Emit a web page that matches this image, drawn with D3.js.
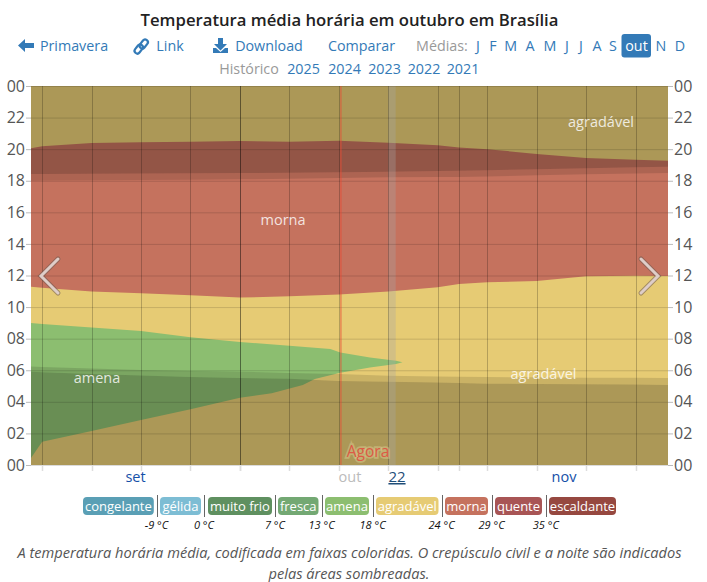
<!DOCTYPE html>
<html lang="pt">
<head>
<meta charset="utf-8">
<title>Temperatura média horária em outubro em Brasília</title>
<script src="https://cdn.jsdelivr.net/npm/d3@7/dist/d3.min.js"></script>
<style>
html,body{margin:0;padding:0;background:#fff}
svg{display:block;font-family:"Open Sans",sans-serif}
</style>
</head>
<body>
<svg id="chart" width="707" height="582"></svg>
<script>
// Days counted from 1 September; hours of the day on the vertical axis.
const days = [0.42, 2, 9, 16, 23, 30, 37, 44, 51, 58, 61, 65, 72, 79, 86, 90.6];
const warmTop = [20.06, 20.18, 20.39, 20.44, 20.47, 20.52, 20.47, 20.54, 20.41, 20.25, 20.11, 20.0, 19.7, 19.44, 19.33, 19.27];
const warmBottom = [11.29, 11.23, 10.98, 10.87, 10.75, 10.6, 10.68, 10.79, 10.98, 11.25, 11.46, 11.57, 11.65, 11.95, 11.99, 11.97];
const duskStart = [18.0, 18.01, 18.03, 18.04, 18.06, 18.09, 18.12, 18.18, 18.22, 18.24, 18.24, 18.27, 18.35, 18.41, 18.46, 18.49];
const nightStart = [18.43, 18.43, 18.45, 18.46, 18.48, 18.49, 18.51, 18.54, 18.57, 18.62, 18.64, 18.67, 18.73, 18.79, 18.86, 18.89];
const nightEnd = [5.91, 5.88, 5.76, 5.67, 5.57, 5.51, 5.46, 5.32, 5.27, 5.22, 5.19, 5.15, 5.13, 5.11, 5.09, 5.07];
const dawnEnd = [6.24, 6.21, 6.11, 6.02, 5.95, 5.91, 5.83, 5.76, 5.65, 5.6, 5.59, 5.57, 5.55, 5.53, 5.52, 5.51];

// The mild band closes into a wedge, so its two edges have their own day lists.
const mildTopDays = [0.42, 2, 9, 16, 23, 30, 37, 42.8, 44.2, 48.4, 52.1, 53];
const mildTop = [8.99, 8.93, 8.7, 8.48, 8.09, 7.79, 7.55, 7.35, 7.13, 6.8, 6.6, 6.5];
const mildBottomDays = [0.42, 2, 9, 16, 23, 30, 34.5, 38.9, 40.6, 44.2, 48.4, 52.1, 53];
const mildBottom = [0.44, 1.48, 2.15, 2.85, 3.53, 4.26, 4.54, 5.07, 5.45, 5.84, 6.18, 6.4, 6.5];

const weekDays = [2, 9, 16, 23, 30, 37, 44, 51, 58, 65, 72, 79, 86];
const monthEdges = [30, 61];
const nowDay = 44.3;
const selectedDay = [51, 52.05];
const hourTicks = [0, 2, 4, 6, 8, 10, 12, 14, 16, 18, 20, 22, 24];

const bandNames = ["congelante", "gélida", "muito frio", "fresca", "amena", "agradável", "morna", "quente", "escaldante"];
const bandColors = ["#5a9fb5", "#7dbdd4", "#5f9060", "#73a873", "#8cbe70", "#e6cb74", "#c5725e", "#a85555", "#964840"];
const bandEdges = [83, 153.8, 160, 201, 208, 272, 278, 318.5, 325, 369, 376, 438.5, 445, 488, 495, 542, 549, 616];
const limitLabels = ["-9 °C", "0 °C", "7 °C", "13 °C", "18 °C", "24 °C", "29 °C", "35 °C"];
const limitAt = [156.5, 204, 275, 321.6, 372.6, 441.6, 491.6, 545.8];

const monthInitials = ["J", "F", "M", "A", "M", "J", "J", "A", "S", "out", "N", "D"];
const monthInitialAt = [478, 493, 510.6, 530, 550, 567, 581, 597, 613, 636.5, 661, 680];
const archiveYears = ["2025", "2024", "2023", "2022", "2021"];
const archiveAt = [303.5, 344.5, 384.5, 424, 463];

const svg = d3.select("#chart");
const linkBlue = "#337ab7";
const plotLeft = 31, plotRight = 668, plotTop = 86, plotBottom = 465;
const x = d3.scaleLinear().domain([days[0], days[days.length - 1]]).range([plotLeft, plotRight]);
const y = d3.scaleLinear().domain([0, 24]).range([plotBottom, plotTop]);

function label(sel, str, px, py, opts = {}) {
  return sel.append("text").attr("x", px).attr("y", py)
    .attr("text-anchor", opts.anchor || "middle")
    .attr("font-size", opts.size || 15)
    .attr("font-style", opts.style || null)
    .attr("font-weight", opts.weight || null)
    .attr("fill", opts.fill || "#333")
    .text(str);
}

// Header: title, navigation links and archive links
label(svg, "Temperatura média horária em outubro em Brasília", 349.5, 26, {size: 16.7, weight: 600, fill: "#222"});
label(svg, "Primavera", 74, 51, {fill: linkBlue, size: 14.3});
label(svg, "Link", 170, 51, {fill: linkBlue, size: 14.3});
label(svg, "Download", 269, 51, {fill: linkBlue, size: 14.3});
label(svg, "Comparar", 361.5, 51, {fill: linkBlue, size: 14.3});
label(svg, "Médias:", 442, 51, {fill: "#999", size: 14.3});
label(svg, "Histórico", 249, 74, {fill: "#999", size: 14.3});

svg.append("rect").attr("x", 621.5).attr("y", 34).attr("width", 29.5).attr("height", 23.5).attr("rx", 3).attr("fill", linkBlue);
monthInitials.forEach((m, i) => label(svg, m, monthInitialAt[i], 51, {fill: m === "out" ? "#fff" : linkBlue, size: 14.3}));
archiveYears.forEach((yr, i) => label(svg, yr, archiveAt[i], 74, {fill: linkBlue, size: 14.3}));

// Navigation icons
svg.append("path").attr("fill", linkBlue)
  .attr("d", "M18 45.5l7-6.5v4h9v5h-9v4z");
svg.append("g").attr("fill", "none").attr("stroke", linkBlue).attr("stroke-width", 2.2)
  .selectAll("rect").data([[136, 44], [141, 39]]).join("rect")
  .attr("x", d => d[0]).attr("y", d => d[1]).attr("width", 5.5).attr("height", 10).attr("rx", 2.7)
  .attr("transform", d => `rotate(38 ${d[0] + 2.7} ${d[1] + 5})`);
svg.append("path").attr("fill", linkBlue)
  .attr("d", "M218 38h5v6h4l-6.5 6.5-6.5-6.5h4zM213 48h3l4.5 4 4.5-4h3v5h-15z");

// Temperature bands
const plot = svg.append("g");
const hourArea = (xs, lo, hi) => d3.area()
  .x((d, i) => x(xs[i])).y0((d, i) => y(lo[i])).y1((d, i) => y(hi[i]))(xs);

plot.append("rect").attr("x", plotLeft).attr("y", y(24))
  .attr("width", plotRight - plotLeft).attr("height", y(0) - y(24)).attr("fill", bandColors[5]);
plot.append("path").attr("d", hourArea(days, warmBottom, warmTop)).attr("fill", bandColors[6]);

const mildOutline = mildTopDays.map((d, i) => [x(d), y(mildTop[i])])
  .concat(mildBottomDays.map((d, i) => [x(d), y(mildBottom[i])]).reverse());
plot.append("path").attr("d", d3.line()(mildOutline) + "Z").attr("fill", bandColors[4]);

// Night and civil twilight shading
const zeros = days.map(() => 0), tops = days.map(() => 24);
const shade = (lo, hi, alpha) => plot.append("path").attr("d", hourArea(days, lo, hi)).attr("fill", "#000").attr("fill-opacity", alpha);
shade(zeros, nightEnd, 0.25);
shade(nightStart, tops, 0.25);
shade(nightEnd, dawnEnd, 0.12);
shade(duskStart, nightStart, 0.12);

// Selected day
plot.append("rect").attr("x", x(selectedDay[0])).attr("y", plotTop)
  .attr("width", x(selectedDay[1]) - x(selectedDay[0])).attr("height", plotBottom - plotTop)
  .attr("fill", "#a8a8a8").attr("fill-opacity", 0.32);

// Grid: hour rules, weekly rules and a stronger rule at the start of October
const grid = svg.append("g");
const snap = d => Math.round(x(d)) + 0.5;
grid.selectAll("line.hour").data(hourTicks).join("line").attr("class", "hour")
  .attr("x1", plotLeft).attr("x2", plotRight).attr("y1", d => y(d) + 0.5).attr("y2", d => y(d) + 0.5)
  .attr("stroke", "#000").attr("stroke-opacity", 0.14);
grid.selectAll("line.week").data(weekDays.concat(monthEdges[1])).join("line").attr("class", "week")
  .attr("x1", snap).attr("x2", snap)
  .attr("y1", plotTop).attr("y2", plotBottom)
  .attr("stroke", "#000").attr("stroke-opacity", 0.22);
grid.append("line").attr("x1", snap(monthEdges[0])).attr("x2", snap(monthEdges[0]))
  .attr("y1", plotTop).attr("y2", plotBottom)
  .attr("stroke", "#000").attr("stroke-opacity", 0.3);

// Tick marks below the plot
grid.selectAll("line.tick").data(weekDays.concat(monthEdges)).join("line").attr("class", "tick")
  .attr("x1", snap).attr("x2", snap)
  .attr("y1", plotBottom).attr("y2", plotBottom + 6)
  .attr("stroke", "#ddd").attr("stroke-width", 1.5);

// Hour axis on both sides
const hourLabel = d => String(d % 24).padStart(2, "0");
[[d3.axisLeft, plotLeft], [d3.axisRight, plotRight]].forEach(([axis, at]) => {
  const g = svg.append("g").attr("transform", `translate(${at},0)`)
    .call(axis(y).tickValues(hourTicks).tickFormat(hourLabel).tickSize(5).tickPadding(1));
  g.select(".domain").remove();
  g.selectAll("line").attr("stroke", "#bbb");
  g.selectAll("text").attr("font-size", 16).attr("fill", "#555").attr("font-family", "'Open Sans',sans-serif");
});

// Now marker
svg.append("line").attr("x1", x(nowDay)).attr("x2", x(nowDay)).attr("y1", plotTop).attr("y2", plotBottom)
  .attr("stroke", "#ea4a35").attr("stroke-opacity", 0.8);
label(svg, "Agora", 368, 457, {size: 15.5, fill: "#dd5a45"})
  .attr("stroke", "#e0d098").attr("stroke-opacity", 0.45).attr("stroke-width", 3.5).attr("paint-order", "stroke");

// Band names inside the plot
const inPlot = {fill: "#fff", size: 14.5};
label(svg, "morna", 283, 225, inPlot).attr("fill-opacity", 0.82);
label(svg, "amena", 97, 383, inPlot).attr("fill-opacity", 0.82);
label(svg, "agradável", 601, 127, inPlot).attr("fill-opacity", 0.82);
label(svg, "agradável", 543.5, 379, inPlot).attr("fill-opacity", 0.82);

// Previous and next chevrons
[[[58, 259], [41, 276], [58, 293]], [[641, 259], [658, 276], [641, 293]]].forEach(pts => {
  const chevron = d3.line()(pts);
  svg.append("path").attr("d", chevron).attr("fill", "none").attr("stroke", "#6e5a50").attr("stroke-opacity", 0.55).attr("stroke-width", 5).attr("stroke-linecap", "round");
  svg.append("path").attr("d", chevron).attr("fill", "none").attr("stroke", "#decdc8").attr("stroke-width", 3).attr("stroke-linecap", "round");
});

// Month labels and selected day under the axis
label(svg, "set", 135.5, 482, {fill: "#1550a8", size: 14.5});
label(svg, "out", 350, 482, {fill: "#bbb", size: 14.5});
label(svg, "nov", 564, 482, {fill: "#1550a8", size: 14.5});
label(svg, "22", 397, 482, {fill: "#1f4e79", size: 15}).attr("text-decoration", "underline");

// Legend
const legend = svg.append("g");
bandNames.forEach((name, i) => {
  const a = bandEdges[2 * i], b = bandEdges[2 * i + 1];
  legend.append("rect").attr("x", a).attr("y", 497).attr("width", b - a).attr("height", 18).attr("rx", 4).attr("fill", bandColors[i]);
  label(legend, name, (a + b) / 2, 511, {fill: "#fff", size: 13});
});
limitAt.forEach((at, i) => {
  legend.append("line").attr("x1", Math.round(at) + 0.5).attr("x2", Math.round(at) + 0.5).attr("y1", 495).attr("y2", 517).attr("stroke", "#666");
  label(legend, limitLabels[i], at, 529, {fill: "#111", size: 11, style: "italic"});
});

// Caption
label(svg, "A temperatura horária média, codificada em faixas coloridas. O crepúsculo civil e a noite são indicados", 349.5, 558, {fill: "#555", size: 14.6, style: "italic"});
label(svg, "pelas áreas sombreadas.", 349, 579, {fill: "#555", size: 14.6, style: "italic"});
</script>
</body>
</html>
